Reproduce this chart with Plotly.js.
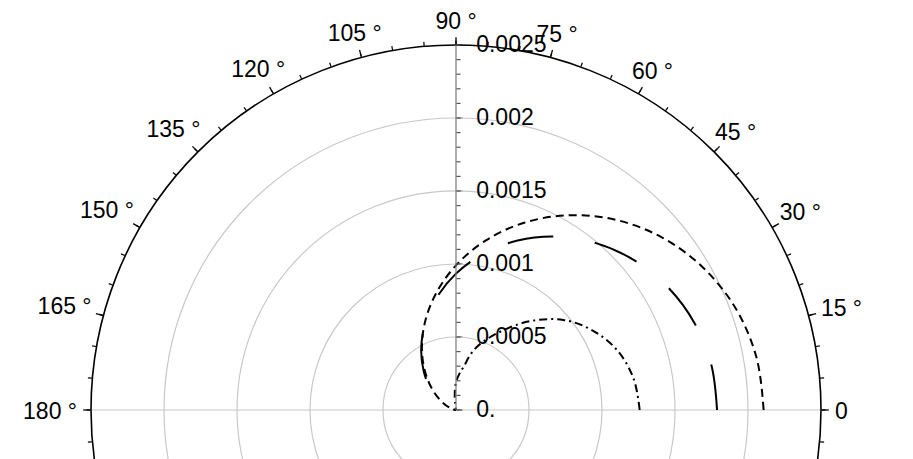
<!DOCTYPE html>
<html>
<head>
<meta charset="utf-8">
<script src="https://cdn.plot.ly/plotly-3.0.1.min.js"></script>
<style>
  html, body { margin: 0; padding: 0; background: #fff; overflow: hidden; }
  #plot { width: 913px; height: 820px; }
</style>
</head>
<body>
<div id="plot"></div>
<script>
// angles in degrees, radii
var theta = [0, 10, 20, 30, 40, 50, 60, 70, 80, 90, 100, 110, 120, 130, 140, 150, 160, 170, 180];
var rShortDash = [0.002107, 0.002089, 0.002038, 0.001953, 0.001840, 0.001701, 0.001540, 0.001365, 0.001180, 0.000991,
                  0.000805, 0.000629, 0.000466, 0.000323, 0.000204, 0.000111, 0.000047, 0.000010, 0];
var rLongDash = [0.001788, 0.001776, 0.001739, 0.001678, 0.001595, 0.001492, 0.001371, 0.001235, 0.001088, 0.000934,
                 0.000777, 0.000623, 0.000477, 0.000343, 0.000226, 0.000130, 0.000059, 0.000015, 0];
var thetaSmall = [0, 10, 20, 30, 40, 50, 60, 70, 75, 80, 85, 90, 95, 100];
var rDashDot = [0.001258, 0.001235, 0.001180, 0.001085, 0.000960, 0.000795, 0.000625, 0.000480, 0.000400, 0.000300,
                0.000245, 0.000190, 0.000100, 0];

var angleTicks = [0, 15, 30, 45, 60, 75, 90, 105, 120, 135, 150, 165, 180];
var angleLabels = ["0", "15 °", "30 °", "45 °", "60 °", "75 °", "90 °", "105 °", "120 °", "135 °", "150 °", "165 °", "180 °"];
var radialTicks = [0, 0.0005, 0.001, 0.0015, 0.002, 0.0025];
var radialLabels = ["0.", "0.0005", "0.001", "0.0015", "0.002", "0.0025"];

var fontSize = 23;
var font = {family: "Liberation Sans, Arial, sans-serif", size: fontSize, color: "#000"};
var rRange = [0, 0.0025];

// page geometry: full circle, only its top part is inside the window
var W = 913, H = 820;
var cx = 456, cy = 410, R = 365;     // circle centre and radius in px
var R4 = 406;                        // radius of the (invisible) label ring
var labelDrop = 3.5;                 // text baseline correction
var dom = {x: [(cx - R) / W, (cx + R) / W], y: [(H - cy - R) / H, (H - cy + R) / H]};
var cy4 = cy + labelDrop;
var dom4 = {x: [(cx - R4) / W, (cx + R4) / W], y: [(H - cy4 - R4) / H, (H - cy4 + R4) / H]};
var r4Max = rRange[1] * R4 / R;

function curve(r, t, dash) {
    return {
        type: "scatterpolar", subplot: "polar2", mode: "lines",
        r: r, theta: t,
        line: {color: "#000", width: 2, dash: dash, shape: "spline", smoothing: 1},
        hoverinfo: "skip"
    };
}

// empty trace so that an overlay subplot gets its axes drawn
function holder(id) {
    return {type: "scatterpolar", subplot: id, mode: "lines", r: [0], theta: [0],
            line: {color: "rgba(0,0,0,0)"}, hoverinfo: "skip"};
}

// angle labels sit a fixed gap outside the circle, measured from the text box
var ctx = document.createElement("canvas").getContext("2d");
ctx.font = fontSize + "px 'Liberation Sans'";
var labelR = angleLabels.map(function(txt, i) {
    var a = angleTicks[i] * Math.PI / 180;
    var w = ctx.measureText(txt).width;
    var h = fontSize * 0.95;
    var ex = Math.cos(a) * w / 2, ey = Math.sin(a) * h / 2;
    var d = 14 + Math.sqrt(ex * ex + ey * ey);
    return rRange[1] * (1 + d / R);
});

var data = [
    holder("polar"),
    curve(rShortDash, theta, "8px,5px"),
    curve(rLongDash, theta, "46px,42px"),
    curve(rDashDot, thetaSmall, "8px,4px,2px,4px"),
    holder("polar3"),
    {
        type: "scatterpolar", subplot: "polar4", mode: "text",
        r: labelR, theta: angleTicks, text: angleLabels,
        textposition: "middle center", textfont: font,
        cliponaxis: false, hoverinfo: "skip"
    }
];

var hidden = "rgba(0,0,0,0)";

var layout = {
    width: W, height: H,
    margin: {l: 0, r: 0, t: 0, b: 0},
    paper_bgcolor: "#fff",
    showlegend: false,
    font: font,
    // gray line through 0 / 180, major radial ticks
    polar: {
        domain: dom, bgcolor: hidden,
        angularaxis: {tickmode: "array", tickvals: [0, 180], ticks: "", showticklabels: false,
                      showline: false, showgrid: true, gridcolor: "#c8c8c8", gridwidth: 1.2},
        radialaxis: {
            angle: 90, side: "clockwise", range: rRange,
            tickmode: "array", tickvals: radialTicks,
            ticks: "outside", ticklen: 6, tickwidth: 1.2, tickcolor: "#555",
            showticklabels: false, showline: false, showgrid: false
        }
    },
    // main axes
    polar2: {
        domain: dom, bgcolor: hidden,
        angularaxis: {
            rotation: 0, direction: "counterclockwise",
            tickmode: "array", tickvals: angleTicks,
            ticks: "outside", ticklen: 7, tickwidth: 1.3, tickcolor: "#000",
            showticklabels: false,
            showline: true, linecolor: "#000", linewidth: 1.6,
            showgrid: false
        },
        radialaxis: {
            angle: 90, side: "clockwise", range: rRange,
            tickmode: "array", tickvals: radialTicks, ticktext: radialLabels,
            ticks: "outside", ticklen: 15, tickcolor: hidden,
            showline: true, linecolor: "#777", linewidth: 1.2,
            showgrid: true, gridcolor: "#c8c8c8", gridwidth: 1.2,
            tickangle: 90, tickfont: font
        }
    },
    // minor ticks
    polar3: {
        domain: dom, bgcolor: hidden,
        angularaxis: {
            rotation: 0, direction: "counterclockwise",
            tickmode: "linear", tick0: 0, dtick: 5,
            ticks: "outside", ticklen: 4, tickwidth: 1.2, tickcolor: "#000",
            showticklabels: false, showline: false, showgrid: false
        },
        radialaxis: {
            angle: 90, side: "clockwise", range: rRange,
            tickmode: "linear", tick0: 0, dtick: 0.0001,
            ticks: "outside", ticklen: 4, tickwidth: 1.2, tickcolor: "#555",
            showticklabels: false, showline: false, showgrid: false
        }
    },
    // ring that carries the angle labels
    polar4: {
        domain: dom4, bgcolor: hidden,
        angularaxis: {rotation: 0, direction: "counterclockwise", visible: false},
        radialaxis: {range: [0, r4Max], visible: false}
    }
};

Plotly.newPlot("plot", data, layout, {displayModeBar: false, staticPlot: true});
</script>
</body>
</html>
